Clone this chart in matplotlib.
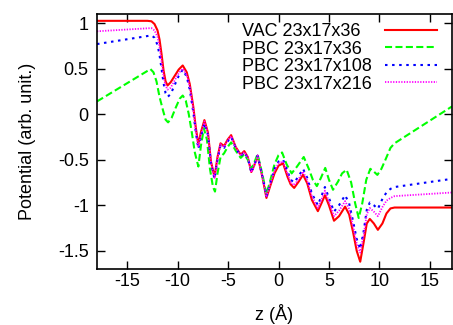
import matplotlib
matplotlib.use("Agg")
import matplotlib.pyplot as plt

plt.rcParams['font.family'] = ['Liberation Sans', 'DejaVu Sans']
plt.rcParams['axes.unicode_minus'] = False

# VAC 23x17x36 / PBC 23x17x108 / PBC 23x17x216 share a z grid
z = [-18, -13.0, -12.6, -12.3, -12.0, -11.8, -11.6, -11.4, -11.2, -11.0,
     -10.7, -10.3, -9.9, -9.5, -9.1, -8.8, -8.45, -8.2, -7.95, -7.7,
     -7.35, -7.0, -6.7, -6.35, -6.05, -5.75, -5.4, -5.05, -4.7, -4.25,
     -3.75, -3.4, -3.05, -2.7, -2.4, -2.08, -1.6, -1.2, -0.8, -0.4,
     0.0, 0.45, 0.9, 1.2, 1.55, 2.0, 2.43, 2.85, 3.3, 3.9,
     4.25, 4.6, 5.0, 5.5, 6.0, 6.6, 7.0, 7.4, 7.75, 8.1,
     8.45, 8.75, 9.05, 9.45, 9.85, 10.3, 10.7, 11.1, 11.5, 17.2]

vac = [1.025, 1.025, 1.02, 0.99, 0.92, 0.82, 0.66, 0.48, 0.36, 0.315,
       0.35, 0.42, 0.49, 0.535, 0.46, 0.33, 0.08, -0.15, -0.335, -0.2,
       -0.065, -0.2, -0.52, -0.69, -0.47, -0.32, -0.35, -0.28, -0.23, -0.36,
       -0.445, -0.405, -0.47, -0.635, -0.56, -0.455, -0.69, -0.92, -0.78, -0.65,
       -0.565, -0.54, -0.69, -0.77, -0.81, -0.74, -0.665, -0.76, -0.94, -1.065,
       -0.98, -0.89, -1.0, -1.17, -1.12, -1.015, -1.1, -1.3, -1.5, -1.62,
       -1.4, -1.2, -1.15, -1.2, -1.27, -1.2, -1.09, -1.035, -1.025, -1.025]

pbc108 = [0.77, 0.858, 0.865, 0.84, 0.76, 0.65, 0.50, 0.34, 0.23, 0.19,
          0.22, 0.32, 0.42, 0.49, 0.41, 0.27, 0.02, -0.2, -0.38, -0.25,
          -0.1, -0.23, -0.54, -0.71, -0.5, -0.34, -0.37, -0.3, -0.25, -0.37,
          -0.46, -0.42, -0.48, -0.64, -0.56, -0.455, -0.68, -0.9, -0.75, -0.6,
          -0.52, -0.5, -0.63, -0.72, -0.75, -0.68, -0.6, -0.7, -0.87, -1.0,
          -0.9, -0.8, -0.92, -1.07, -1.0, -0.89, -0.98, -1.18, -1.37, -1.48,
          -1.28, -1.05, -0.97, -1.0, -1.04, -0.93, -0.86, -0.82, -0.80, -0.71]

pbc216 = [0.91, 0.943, 0.945, 0.92, 0.85, 0.74, 0.58, 0.42, 0.31, 0.27,
          0.29, 0.37, 0.45, 0.50, 0.43, 0.30, 0.05, -0.18, -0.36, -0.23,
          -0.08, -0.21, -0.53, -0.70, -0.49, -0.33, -0.36, -0.29, -0.24, -0.365,
          -0.455, -0.415, -0.475, -0.64, -0.56, -0.455, -0.685, -0.91, -0.76, -0.62,
          -0.54, -0.52, -0.66, -0.75, -0.78, -0.71, -0.63, -0.73, -0.9, -1.03,
          -0.94, -0.84, -0.96, -1.12, -1.06, -0.955, -1.04, -1.24, -1.42, -1.52,
          -1.32, -1.1, -1.03, -1.07, -1.12, -1.02, -0.95, -0.92, -0.90, -0.86]

# PBC 23x17x36 has its own z grid
z_g = [-18, -12.7, -12.4, -12.1, -11.8, -11.45, -11.2, -10.95, -10.6, -10.2,
       -9.8, -9.5, -9.2, -8.9, -8.6, -8.3, -7.95, -7.7, -7.4, -7.1,
       -6.8, -6.5, -6.3, -6.05, -5.75, -5.4, -5.05, -4.7, -4.25, -3.75,
       -3.4, -3.05, -2.7, -2.4, -2.08, -1.6, -1.2, -0.8, -0.4, 0.0,
       0.35, 0.8, 1.3, 1.8, 2.5, 3.0, 3.4, 3.8, 4.2, 4.63,
       5.0, 5.4, 5.9, 6.3, 6.75, 7.2, 7.6, 7.95, 8.3, 8.7,
       9.1, 9.45, 9.8, 10.2, 10.6, 11.1, 11.5, 17.2]

pbc36 = [0.14, 0.495, 0.46, 0.36, 0.19, 0.04, -0.06, -0.09, -0.04, 0.07,
         0.17, 0.205, 0.15, 0.0, -0.2, -0.42, -0.575, -0.35, -0.155, -0.28,
         -0.6, -0.8, -0.85, -0.65, -0.47, -0.43, -0.36, -0.31, -0.40, -0.48,
         -0.44, -0.50, -0.6, -0.53, -0.44, -0.66, -0.88, -0.72, -0.55, -0.45,
         -0.42, -0.55, -0.65, -0.58, -0.47, -0.6, -0.72, -0.79, -0.70, -0.59,
         -0.72, -0.83, -0.74, -0.65, -0.61, -0.75, -0.98, -1.14, -0.98, -0.72,
         -0.60, -0.63, -0.667, -0.60, -0.50, -0.37, -0.32, 0.085]

labels = ["VAC 23x17x36", "PBC 23x17x36", "PBC 23x17x108", "PBC 23x17x216"]
xticks = [-15, -10, -5, 0, 5, 10, 15]
yticks = [-1.5, -1, -0.5, 0, 0.5, 1]
yticklabels = ["-1.5", "-1", "-0.5", "0", "0.5", "1"]

FS = 13
W, H = 453, 325
fig = plt.figure(figsize=(W / 100, H / 100), dpi=100)
ax = fig.add_axes([97 / W, 1 - 269 / H, (452 - 97) / W, (269 - 14) / H])

h1, = ax.plot(z, vac, color='#ff0000', lw=1.5)
h2, = ax.plot(z_g, pbc36, color='#00ff00', lw=1.5, dashes=(3.4, 1.6))
h3, = ax.plot(z, pbc108, color='#0000ff', lw=1.5, dashes=(1.2, 2.2))
h4, = ax.plot(z, pbc216, color='#ff00ff', lw=1.3, dashes=(0.7, 0.8))
handles = [h1, h2, h3, h4]

ax.set_xlim(-18, 17.2)
ax.set_ylim(-1.7, 1.1)
ax.set_xticks(xticks)
ax.set_xticklabels([str(t) for t in xticks])
ax.set_yticks(yticks)
ax.set_yticklabels(yticklabels)
ax.tick_params(direction='in', top=True, right=True, length=6, width=1.0,
               labelsize=FS, color='black')
ax.tick_params(axis='x', pad=3)
ax.tick_params(axis='y', pad=6)
for s in ax.spines.values():
    s.set_linewidth(1.2)

ax.set_xlabel("z (Å)", fontsize=FS, labelpad=10)
ax.set_ylabel("Potential (arb. unit.)", fontsize=FS, labelpad=16)

# legend: left-aligned labels, samples in a separate aligned column
top = 1 - 23 / H
leg_text = ax.legend(handles, labels, loc='upper left',
                     bbox_to_anchor=(242 / W, top), bbox_transform=fig.transFigure,
                     frameon=False, fontsize=FS, handlelength=0, handletextpad=0,
                     labelspacing=0.03, borderpad=0, borderaxespad=0)
for h in leg_text.legend_handles:
    h.set_visible(False)
ax.add_artist(leg_text)
ax.legend(handles, [" "] * 4, loc='upper left',
          bbox_to_anchor=(385 / W, top), bbox_transform=fig.transFigure,
          frameon=False, fontsize=FS, handlelength=2.9, handletextpad=0,
          labelspacing=0.03, borderpad=0, borderaxespad=0)

fig.savefig("out.png", dpi=100)
